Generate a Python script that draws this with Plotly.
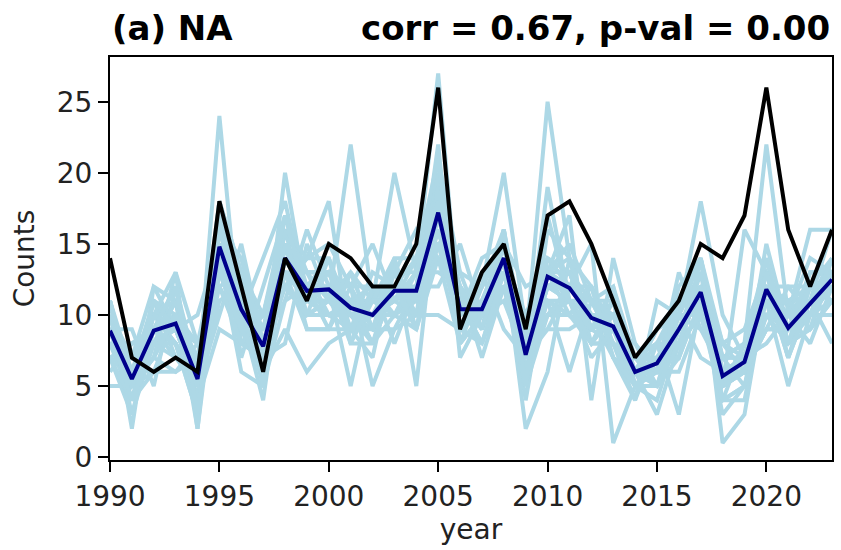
import plotly.graph_objects as go

years = list(range(1990, 2024))

observed = [14, 7, 6, 7, 6, 18, 12, 6, 14, 11, 15, 14, 12, 12, 15, 26, 9, 13, 15, 9,
            17, 18, 15, 11, 7, 9, 11, 15, 14, 17, 26, 16, 12, 16]

ens_mean = [8.9, 5.5, 8.9, 9.4, 5.5, 14.8, 10.4, 7.8, 14.0, 11.7, 11.8, 10.5, 10.0, 11.7,
            11.7, 17.2, 10.4, 10.4, 14.0, 7.2, 12.7, 11.9, 9.8, 9.2, 6.0, 6.6, 9.0, 11.6,
            5.7, 6.7, 11.8, 9.1, 10.8, 12.5]

# ensemble members: one row per year, one column per member
ens_by_year = [
    [11, 9, 8, 10, 7, 9, 11, 7, 10, 8, 11, 9, 5, 10, 9, 8, 11, 7, 9, 10, 8, 9, 6, 10, 9, 8, 10, 7, 9, 11, 8, 9, 9],      # 1990
    [6, 4, 5, 7, 3, 6, 5, 8, 4, 6, 2, 7, 5, 6, 9, 4, 5, 6, 7, 3, 5, 6, 8, 5, 4, 5, 7, 4, 6, 5, 8, 4, 5],              # 1991
    [9, 10, 7, 12, 8, 11, 6, 9, 10, 8, 12, 9, 7, 10, 5, 9, 11, 8, 10, 9, 7, 10, 8, 11, 6, 10, 8, 9, 7, 11, 9, 8, 9],    # 1992
    [10, 8, 13, 9, 11, 7, 10, 12, 8, 9, 11, 10, 6, 9, 12, 8, 10, 9, 11, 7, 10, 13, 8, 9, 6, 9, 11, 8, 10, 9, 12, 7, 9],  # 1993
    [6, 4, 8, 5, 2, 7, 5, 6, 3, 10, 5, 4, 7, 6, 5, 3, 8, 6, 4, 5, 7, 2, 6, 5, 8, 5, 6, 4, 7, 5, 3, 6, 8],             # 1994
    [15, 17, 12, 24, 14, 16, 10, 17, 13, 15, 17, 11, 14, 16, 13, 18, 12, 15, 9, 16, 14, 16, 13, 18, 15, 14, 16, 13, 17, 12, 15, 18, 13],  # 1995
    [11, 9, 13, 8, 12, 10, 15, 7, 11, 10, 9, 12, 6, 11, 10, 13, 9, 11, 8, 12, 10, 14, 9, 11, 9, 10, 12, 9, 11, 8, 10, 13, 10],  # 1996
    [8, 6, 10, 7, 9, 4, 8, 12, 7, 6, 9, 8, 5, 7, 14, 8, 6, 10, 7, 9, 6, 8, 7, 5, 9, 7, 9, 6, 8, 10, 7, 5, 10],          # 1997
    [14, 16, 12, 20, 13, 15, 11, 17, 14, 9, 16, 13, 15, 12, 18, 14, 13, 16, 8, 15, 14, 12, 17, 13, 15, 13, 15, 14, 12, 16, 14, 11, 17],  # 1998
    [12, 10, 14, 11, 13, 9, 16, 12, 11, 6, 13, 12, 10, 14, 11, 12, 9, 13, 15, 11, 12, 10, 13, 11, 12, 11, 13, 12, 10, 14, 11, 12, 11],  # 1999
    [12, 11, 18, 10, 13, 9, 12, 14, 11, 8, 13, 12, 10, 15, 11, 12, 9, 13, 11, 12, 10, 14, 11, 12, 13, 12, 10, 13, 11, 14, 12, 9, 13],  # 2000
    [10, 22, 8, 11, 9, 12, 9, 10, 13, 9, 11, 5, 10, 12, 9, 11, 9, 10, 13, 8, 11, 9, 10, 12, 9, 11, 9, 12, 10, 8, 11, 13, 10],  # 2001
    [9, 11, 8, 12, 10, 5, 13, 9, 11, 10, 8, 12, 9, 15, 10, 11, 7, 10, 9, 12, 8, 11, 10, 9, 11, 10, 9, 12, 8, 11, 10, 9, 11],  # 2002
    [12, 20, 10, 11, 13, 9, 12, 14, 11, 10, 12, 8, 13, 11, 12, 10, 14, 11, 9, 12, 13, 11, 10, 12, 13, 11, 13, 10, 12, 14, 11, 12, 11],  # 2003
    [11, 13, 9, 12, 16, 10, 12, 5, 13, 11, 14, 12, 10, 13, 11, 12, 9, 14, 12, 11, 13, 10, 12, 15, 11, 12, 10, 13, 11, 14, 12, 9, 13],  # 2004
    [17, 27, 15, 20, 14, 18, 12, 19, 16, 22, 15, 17, 10, 19, 16, 21, 14, 18, 17, 20, 13, 16, 19, 15, 18, 16, 19, 14, 18, 21, 15, 17, 18],  # 2005
    [10, 9, 12, 8, 11, 10, 15, 9, 11, 7, 10, 12, 9, 11, 10, 13, 8, 10, 11, 9, 12, 10, 11, 9, 12, 11, 9, 12, 10, 8, 11, 13, 9],  # 2006
    [11, 10, 9, 12, 8, 14, 10, 11, 9, 10, 12, 7, 11, 10, 13, 9, 10, 11, 12, 8, 10, 11, 9, 13, 10, 10, 12, 9, 11, 10, 8, 12, 11],  # 2007
    [14, 12, 16, 20, 13, 15, 11, 14, 15, 13, 15, 12, 14, 16, 9, 14, 15, 13, 16, 12, 14, 15, 13, 15, 14, 13, 15, 14, 12, 16, 13, 15, 14],  # 2008
    [7, 8, 5, 9, 6, 12, 7, 4, 8, 7, 9, 6, 2, 8, 7, 10, 6, 8, 7, 5, 9, 7, 8, 6, 9, 8, 6, 9, 7, 5, 8, 7, 8],            # 2009
    [12, 25, 10, 13, 11, 13, 9, 13, 12, 19, 11, 13, 6, 13, 12, 14, 10, 13, 11, 14, 12, 17, 9, 13, 12, 13, 11, 14, 12, 16, 10, 13, 13],  # 2010
    [12, 14, 10, 13, 11, 17, 9, 12, 13, 11, 6, 12, 14, 10, 13, 12, 11, 15, 10, 12, 13, 11, 12, 14, 11, 12, 10, 13, 11, 14, 12, 11, 12],  # 2011
    [10, 9, 12, 9, 11, 4, 10, 15, 9, 8, 11, 10, 8, 12, 9, 10, 8, 11, 9, 12, 10, 8, 11, 9, 10, 10, 8, 11, 9, 12, 10, 7, 11],  # 2012
    [9, 10, 8, 11, 8, 14, 9, 1, 10, 8, 12, 9, 10, 7, 11, 9, 8, 10, 12, 9, 7, 10, 11, 8, 9, 9, 11, 8, 10, 7, 10, 9, 10],    # 2013
    [6, 5, 7, 6, 4, 8, 6, 5, 7, 6, 5, 6, 7, 4, 6, 8, 5, 6, 7, 5, 6, 7, 5, 6, 7, 6, 5, 7, 6, 5, 7, 6, 6],              # 2014
    [7, 6, 8, 5, 11, 6, 7, 4, 8, 6, 7, 3, 6, 8, 7, 5, 6, 9, 7, 6, 8, 5, 7, 6, 7, 7, 5, 8, 6, 7, 6, 9, 5],             # 2015
    [9, 8, 11, 7, 10, 13, 8, 9, 3, 10, 9, 8, 12, 7, 9, 10, 8, 11, 9, 6, 10, 9, 8, 11, 9, 9, 10, 8, 11, 7, 9, 10, 8],     # 2016
    [12, 10, 14, 11, 18, 9, 12, 13, 11, 7, 12, 10, 14, 11, 12, 9, 13, 11, 12, 10, 14, 11, 12, 10, 12, 11, 13, 10, 12, 14, 11, 10, 12],  # 2017
    [6, 5, 7, 4, 10, 6, 5, 8, 3, 6, 5, 7, 1, 6, 5, 7, 4, 6, 8, 5, 6, 4, 7, 5, 6, 5, 7, 4, 6, 8, 5, 6, 5],             # 2018
    [6, 6, 8, 5, 7, 6, 7, 7, 5, 6, 8, 7, 3, 7, 6, 8, 4, 7, 6, 16, 7, 5, 7, 6, 7, 7, 5, 8, 6, 9, 6, 7, 6],             # 2019
    [12, 10, 22, 11, 12, 9, 12, 13, 10, 15, 11, 8, 12, 13, 10, 11, 12, 12, 9, 13, 11, 12, 10, 14, 11, 12, 10, 14, 11, 13, 9, 12, 13],  # 2020
    [9, 8, 10, 11, 7, 9, 12, 8, 10, 9, 5, 10, 11, 8, 9, 10, 7, 9, 12, 8, 10, 9, 11, 8, 9, 9, 10, 8, 11, 7, 9, 10, 9],    # 2021
    [11, 10, 16, 9, 12, 11, 10, 13, 8, 11, 10, 12, 11, 9, 10, 14, 11, 10, 12, 9, 11, 10, 12, 11, 10, 11, 10, 12, 9, 11, 13, 10, 10],  # 2022
    [12, 13, 16, 11, 14, 12, 10, 13, 12, 8, 13, 12, 14, 11, 12, 13, 16, 12, 11, 13, 12, 14, 11, 12, 13, 13, 12, 11, 14, 12, 13, 11, 14],  # 2023
]

x_ticks = [1990, 1995, 2000, 2005, 2010, 2015, 2020]
y_ticks = [0, 5, 10, 15, 20, 25]

title_left = "(a) NA"
title_right = "corr = 0.67, p-val = 0.00"

FONT = "DejaVu Sans"
n_members = len(ens_by_year[0])

fig = go.Figure()
for m in range(n_members):
    fig.add_trace(go.Scatter(
        x=years, y=[row[m] for row in ens_by_year], mode="lines",
        line=dict(color="#ADD8E6", width=4), showlegend=False, hoverinfo="skip"))

fig.add_trace(go.Scatter(x=years, y=ens_mean, mode="lines",
                         line=dict(color="#00008B", width=4), showlegend=False))
fig.add_trace(go.Scatter(x=years, y=observed, mode="lines",
                         line=dict(color="black", width=4), showlegend=False))

axis_common = dict(showgrid=False, zeroline=False, ticks="outside", ticklen=10,
                   tickwidth=2.2, tickcolor="black", showline=True, linecolor="black",
                   linewidth=2.2, mirror=True,
                   tickfont=dict(family=FONT, size=28, color="#222"))

fig.update_layout(
    width=841, height=550,
    margin=dict(l=110, r=7, t=57, b=90),
    paper_bgcolor="white", plot_bgcolor="white",
    font=dict(family=FONT, size=28, color="#222"),
    xaxis=dict(range=[1990, 2023], tickvals=x_ticks,
               title=dict(text="year", font=dict(family=FONT, size=28, color="#222"), standoff=8),
               **axis_common),
    yaxis=dict(range=[-0.2, 28.15], tickvals=y_ticks,
               title=dict(text="Counts", font=dict(family=FONT, size=28, color="#222"), standoff=14),
               **axis_common),
    annotations=[
        dict(text="<b>" + title_left + "</b>", x=0, y=1, xref="paper", yref="paper",
             xanchor="left", yanchor="bottom", yshift=7, showarrow=False,
             font=dict(family=FONT, size=34, color="black")),
        dict(text="<b>" + title_right + "</b>", x=1, y=1, xref="paper", yref="paper",
             xanchor="right", yanchor="bottom", yshift=7, showarrow=False,
             font=dict(family=FONT, size=34, color="black")),
    ],
)

fig.write_html("out.html")
